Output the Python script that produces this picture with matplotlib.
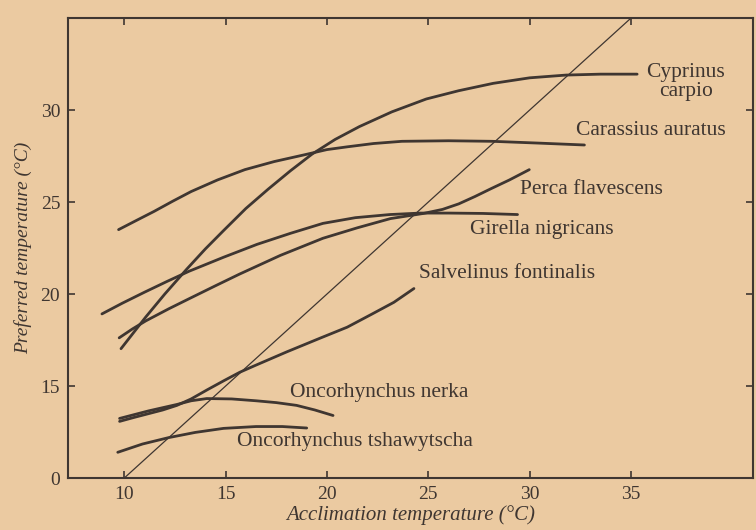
import numpy as np
import matplotlib
matplotlib.use('Agg')
import matplotlib.pyplot as plt

# curvas (aclimatacion vs temperatura preferida)
cyprinus_x = [9.84, 11.06, 12.0, 13.08, 14.0, 14.9, 16.0, 17.1, 18.2, 19.26,
              20.4, 21.6, 23.2, 24.9, 26.5, 28.2, 30.0, 31.8, 33.5, 35.3]
cyprinus_y = [17.03, 18.75, 20.0, 21.35, 22.45, 23.45, 24.65, 25.7, 26.7, 27.6,
              28.4, 29.1, 29.9, 30.6, 31.05, 31.45, 31.75, 31.9, 31.95, 31.95]

carassius_x = [9.72, 10.6, 11.47, 12.4, 13.3, 14.6, 15.95, 17.4, 18.9, 20.0, 21.0,
               22.3, 23.7, 26.0, 28.15, 30.5, 32.7]
carassius_y = [23.5, 24.0, 24.49, 25.05, 25.57, 26.2, 26.76, 27.2, 27.57, 27.85, 28.0,
               28.18, 28.3, 28.33, 28.3, 28.2, 28.1]

perca_x = [9.75, 10.4, 11.06, 12.2, 13.3, 14.5, 15.68, 17.7, 19.8, 21.5, 23.13,
           24.76, 25.7, 26.5, 27.3, 28.1, 29.0, 29.98]
perca_y = [17.62, 18.1, 18.54, 19.2, 19.8, 20.45, 21.08, 22.1, 23.03, 23.6, 24.1,
           24.38, 24.6, 24.9, 25.3, 25.73, 26.2, 26.76]

girella_x = [8.9, 9.9, 11.0, 12.1, 13.2, 14.9, 16.55, 18.2, 19.8, 21.4, 23.1,
             24.6, 26.0, 27.7, 29.4]
girella_y = [18.92, 19.5, 20.1, 20.68, 21.24, 22.0, 22.7, 23.3, 23.84, 24.15, 24.32,
             24.4, 24.4, 24.38, 24.32]

salvelinus_x = [9.77, 10.5, 11.2, 11.9, 12.6, 13.3, 14.1, 14.93, 15.7, 16.42, 18.0,
                19.7, 21.0, 22.2, 23.3, 24.29]
salvelinus_y = [13.08, 13.3, 13.5, 13.7, 13.95, 14.3, 14.8, 15.3, 15.75, 16.1, 16.85,
                17.62, 18.2, 18.9, 19.55, 20.3]

nerka_x = [9.77, 11.2, 12.6, 13.3, 14.07, 15.3, 16.5, 17.5, 18.5, 19.4, 20.3]
nerka_y = [13.24, 13.65, 14.0, 14.2, 14.32, 14.3, 14.2, 14.1, 13.95, 13.7, 13.4]

tshaw_x = [9.68, 10.9, 12.2, 13.5, 14.9, 16.5, 17.8, 19.0]
tshaw_y = [11.4, 11.85, 12.2, 12.48, 12.7, 12.8, 12.8, 12.72]

# linea de igualdad (preferida = aclimatacion)
diag = [10, 35]

x_ticks = [10, 15, 20, 25, 30, 35]
y_ticks = [10, 15, 20, 25, 30]
y_ticklabels = ['0', '15', '20', '25', '30']

bg = '#ebcaa1'
ink = '#3f3631'
serif = ['Liberation Serif', 'DejaVu Serif']

fig = plt.figure(figsize=(7.56, 5.30), dpi=100, facecolor=bg)
ax = fig.add_axes([0.0906, 0.098, 0.905, 0.868], facecolor=bg)

curves = [
    (cyprinus_x, cyprinus_y),
    (carassius_x, carassius_y),
    (perca_x, perca_y),
    (girella_x, girella_y),
    (salvelinus_x, salvelinus_y),
    (nerka_x, nerka_y),
    (tshaw_x, tshaw_y),
]
for cx, cy in curves:
    ax.plot(cx, cy, color=ink, lw=2.0, solid_capstyle='round',
            solid_joinstyle='round')

ax.plot(diag, diag, color=ink, lw=0.9)

# etiquetas de especies
lab = dict(color=ink, fontsize=15.5, family=serif, va='center')
ax.text(37.7, 31.55, 'Cyprinus\ncarpio', ha='center', ma='center',
        linespacing=1.0, **lab)
ax.text(32.3, 28.9, 'Carassius auratus', ha='left', **lab)
ax.text(29.5, 25.7, 'Perca flavescens', ha='left', **lab)
ax.text(27.07, 23.5, 'Girella nigricans', ha='left', **lab)
ax.text(24.55, 21.1, 'Salvelinus fontinalis', ha='left', **lab)
ax.text(18.17, 14.65, 'Oncorhynchus nerka', ha='left', **lab)
ax.text(15.56, 12.0, 'Oncorhynchus tshawytscha', ha='left', **lab)

ax.set_xlim(7.25, 41.0)
ax.set_ylim(10, 35)
ax.set_xticks(x_ticks)
ax.set_yticks(y_ticks)
ax.set_yticklabels(y_ticklabels)
ax.tick_params(direction='in', length=5, width=1.2, color=ink,
               top=True, right=True, labelsize=14, labelcolor=ink, pad=6)
for t in ax.get_xticklabels() + ax.get_yticklabels():
    t.set_family(serif)
for s in ax.spines.values():
    s.set_color(ink)
    s.set_linewidth(1.5)

ax.set_xlabel('Acclimation temperature (°C)', fontsize=15, style='italic',
              family=serif, color=ink, labelpad=1)
ax.set_ylabel('Preferred temperature (°C)', fontsize=14, style='italic',
              family=serif, color=ink, labelpad=6)

fig.savefig('out.png', dpi=100, facecolor=bg)
